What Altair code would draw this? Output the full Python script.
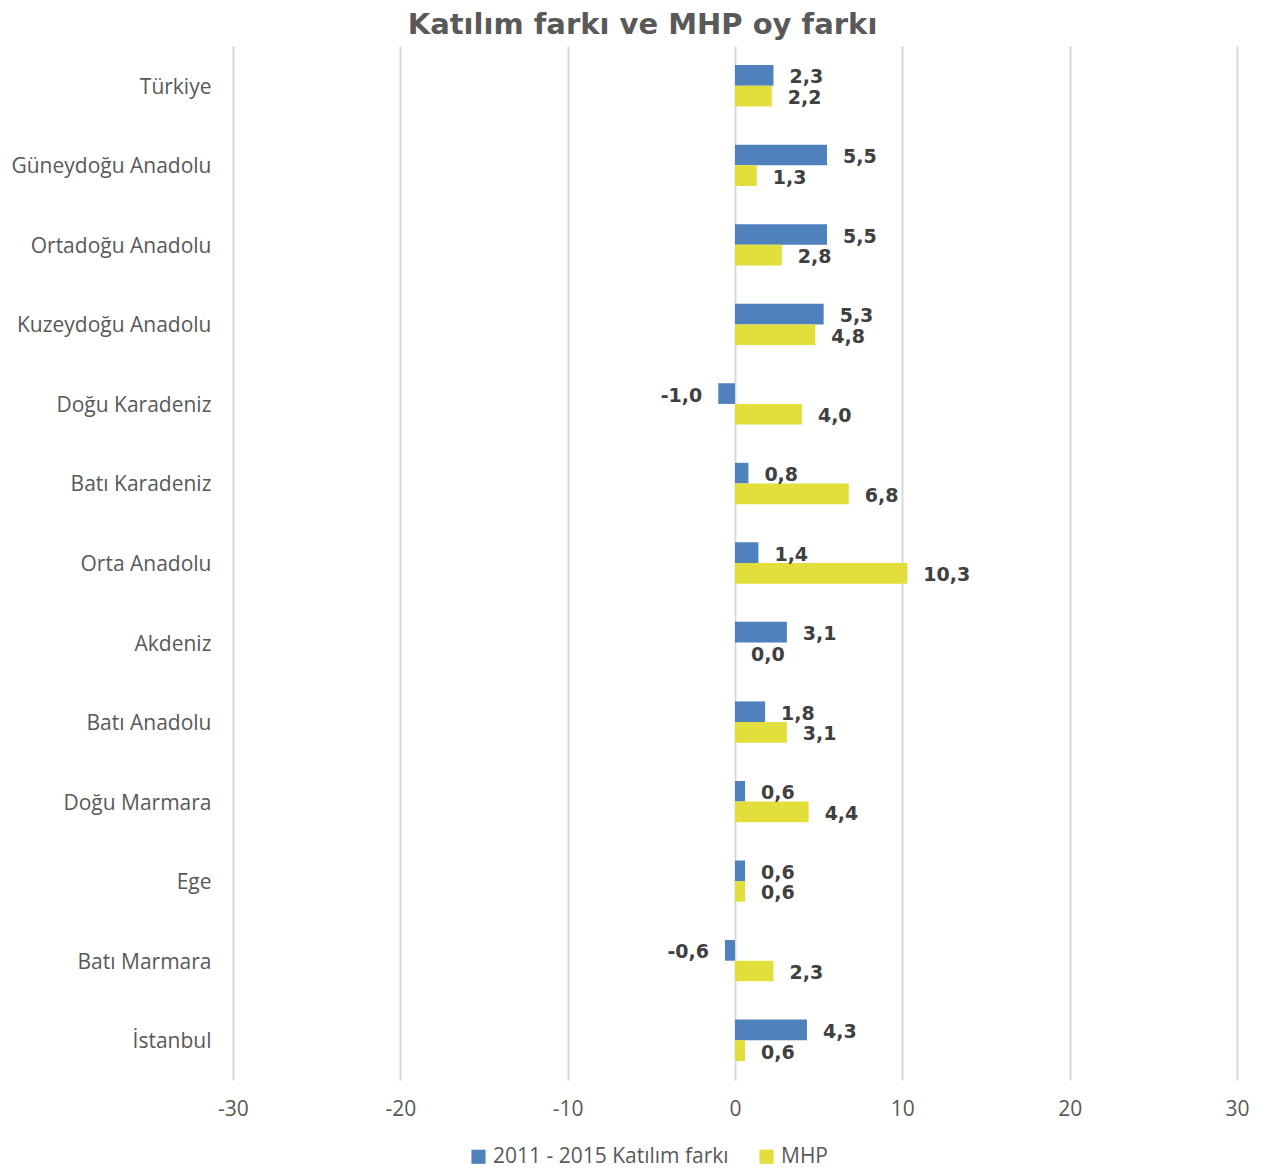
import altair as alt
import pandas as pd

regions = ["Türkiye", "Güneydoğu Anadolu", "Ortadoğu Anadolu", "Kuzeydoğu Anadolu",
           "Doğu Karadeniz", "Batı Karadeniz", "Orta Anadolu", "Akdeniz",
           "Batı Anadolu", "Doğu Marmara", "Ege", "Batı Marmara", "İstanbul"]
katilim = [2.3, 5.5, 5.5, 5.3, -1.0, 0.8, 1.4, 3.1, 1.8, 0.6, 0.6, -0.6, 4.3]
mhp = [2.2, 1.3, 2.8, 4.8, 4.0, 6.8, 10.3, 0.0, 3.1, 4.4, 0.6, 2.3, 0.6]
series = ["2011 - 2015 Katılım farkı", "MHP"]
colors = ["#4F81BD", "#E2DE3B"]
x_ticks = [-30, -20, -10, 0, 10, 20, 30]

rows = []
for i, r in enumerate(regions):
    for s, v in zip(series, [katilim[i], mhp[i]]):
        rows.append({"region": r, "series": s, "value": v,
                     "label": f"{v:.1f}".replace(".", ",")})
df = pd.DataFrame(rows)

y_enc = alt.Y("region:N", sort=regions,
              scale=alt.Scale(paddingInner=0.48, paddingOuter=0.24),
              axis=alt.Axis(title=None, labelFontSize=21, labelColor="#595959",
                            labelFont="Open Sans", ticks=False, domain=False,
                            grid=False, labelPadding=22, labelLimit=0, labelOffset=2,
                            minExtent=225, maxExtent=225))
yoff = alt.YOffset("series:N", sort=series)
x_scale = alt.Scale(domain=[-30, 30], nice=False)

base = alt.Chart(df)

bars = base.mark_bar().encode(
    x=alt.X("value:Q", scale=x_scale,
            axis=alt.Axis(title=None, values=x_ticks, labelExpr="'' + datum.value",
                          labelFontSize=21, labelColor="#595959", labelFont="Open Sans",
                          labelFlush=False, labelBound=False,
                          ticks=False, domain=False, grid=True, gridColor="#d9d9d9",
                          gridWidth=2, labelPadding=18)),
    y=y_enc,
    yOffset=yoff,
    color=alt.Color("series:N", sort=series,
                    scale=alt.Scale(domain=series, range=colors),
                    legend=alt.Legend(title=None, orient="none", direction="horizontal",
                                      legendX=235, legendY=1100,
                                      symbolType="square", symbolSize=200,
                                      labelFontSize=21, labelColor="#595959",
                                      labelFont="Open Sans", columnPadding=27,
                                      labelLimit=0, symbolStrokeWidth=0)),
)

pos_text = base.transform_filter("datum.value >= 0").mark_text(
    align="left", baseline="middle", dx=16, dy=2, fontSize=19, fontWeight="bold",
    font="DejaVu Sans", color="#404040"
).encode(x=alt.X("value:Q", scale=x_scale), y=y_enc, yOffset=yoff, text="label:N")

neg_text = base.transform_filter("datum.value < 0").mark_text(
    align="right", baseline="middle", dx=-16, dy=2, fontSize=19, fontWeight="bold",
    font="DejaVu Sans", color="#404040"
).encode(x=alt.X("value:Q", scale=x_scale), y=y_enc, yOffset=yoff, text="label:N")

chart = alt.layer(bars, pos_text, neg_text).properties(
    width=1004, height=1034,
    title=alt.TitleParams("Katılım farkı ve MHP oy farkı", fontSize=29, font="DejaVu Sans",
                          fontWeight="bold", color="#595959", anchor="middle",
                          frame="bounds", offset=6, dx=14),
).configure(padding={"left": 0, "top": 3, "right": 5, "bottom": 5}).configure_view(stroke=None)

chart.save("out.html", embed_options={"renderer": "svg", "actions": False})
